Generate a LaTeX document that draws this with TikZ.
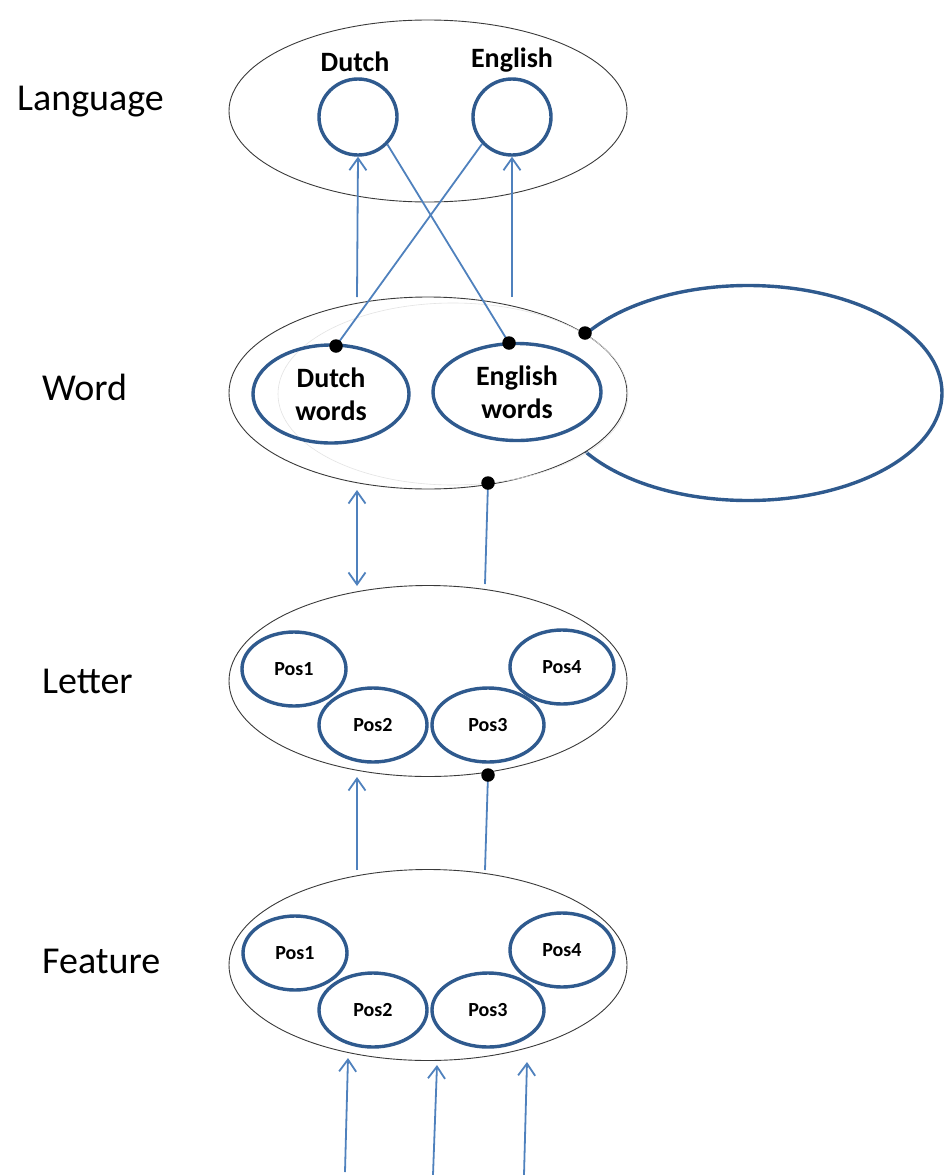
\documentclass[tikz,border=0pt]{standalone}
\usepackage{fontspec}
\setmainfont{Carlito}
\usetikzlibrary{shapes.geometric,arrows.meta}
\definecolor{ringblue}{HTML}{2F5A8E}
\definecolor{linkblue}{HTML}{4F81BD}
\definecolor{rimgray}{HTML}{3A3A3A}
\begin{document}
\begin{tikzpicture}[x=1pt,y=-1pt,
  layer/.style={ellipse,draw=rimgray,line width=0.9pt,fill=white,inner sep=0pt},
  unit/.style={ellipse,draw=ringblue,line width=3.4pt,inner sep=0pt,
    font=\bfseries\fontsize{28}{33}\selectfont,align=center},
  posunit/.style={ellipse,draw=ringblue,line width=3.4pt,inner sep=0pt,
    font=\bfseries\fontsize{20}{22}\selectfont},
  levelname/.style={anchor=base west,inner sep=0pt,font=\fontsize{38}{42}\selectfont},
  tag/.style={font=\bfseries\fontsize{28}{30}\selectfont,inner sep=0pt},
  excite/.style={draw=linkblue,line width=1.8pt,-{Straight Barb[length=12pt,width=17pt]}},
  excite2/.style={draw=linkblue,line width=1.8pt,{Straight Barb[length=12pt,width=17pt]}-{Straight Barb[length=12pt,width=17pt]}},
  inhib/.style={draw=linkblue,line width=1.8pt},
  blob/.style={circle,fill=black,inner sep=0pt,minimum size=13.5pt}]
\path[use as bounding box] (0,0) rectangle (943,1175);

% level names
\node[levelname] (nlang) at (17,110) {Language};
\node[levelname] (nword) at (42,400) {Word};
\node[levelname] (nlett) at (42,693) {Letter};
\node[levelname] (nfeat) at (42,973) {Feature};

% lateral inhibition loop of the word level (drawn first, partly covered)
\node[ellipse,draw=ringblue,line width=3.4pt,minimum width=388pt,minimum height=215pt] (loop) at (748,393) {};

% language level
\node[layer,minimum width=398pt,minimum height=182pt] (lang) at (428,111) {};
\node[unit,minimum width=78pt,minimum height=76pt] (ldutch) at (358,117) {};
\node[unit,minimum width=78pt,minimum height=76pt] (lenglish) at (512,117) {};
\node[tag] (tdutch) at (355,62) {Dutch};
\node[tag] (tenglish) at (512,60) {English};

% word level
\node[layer,minimum width=398pt,minimum height=192pt] (word) at (428,393) {};
\draw[gray!22,line width=0.6pt] (453,394) ellipse (175pt and 91pt);
\node[unit,minimum width=156pt,minimum height=98pt] (wdutch) at (331,394) {Dutch\\words};
\node[unit,minimum width=168pt,minimum height=97pt] (wenglish) at (517,392) {English\\words};

% letter level
\node[layer,minimum width=398pt,minimum height=191pt] (lett) at (428,681) {};
\node[posunit,minimum width=104pt,minimum height=74pt] (lp1) at (294,669) {Pos1};
\node[posunit,minimum width=108pt,minimum height=74pt] (lp2) at (373,725) {Pos2};
\node[posunit,minimum width=112pt,minimum height=74pt] (lp3) at (488,725) {Pos3};
\node[posunit,minimum width=104pt,minimum height=74pt] (lp4) at (562,667) {Pos4};

% feature level
\node[layer,minimum width=398pt,minimum height=191pt] (feat) at (428,965) {};
\node[posunit,minimum width=104pt,minimum height=74pt] (fp1) at (295,953) {Pos1};
\node[posunit,minimum width=108pt,minimum height=74pt] (fp2) at (373,1010) {Pos2};
\node[posunit,minimum width=112pt,minimum height=74pt] (fp3) at (488,1010) {Pos3};
\node[posunit,minimum width=104pt,minimum height=74pt] (fp4) at (562,950) {Pos4};

% inhibitory end points
\coordinate (dwd) at (336,346);
\coordinate (dwe) at (509,343);
\coordinate (dloop) at (585,333);
\coordinate (dwb) at (488,483);
\coordinate (dlb) at (488,775);

% word -> language
\draw[excite] (357,297) -- (ldutch.south);
\draw[excite] (512,297) -- (lenglish.south);
\draw[inhib] (ldutch.-43) -- (dwe);
\draw[inhib] (lenglish.-138) -- (dwd);

% word <-> letter
\draw[excite2] (357,490) -- (357,586);
\draw[inhib] (dwb) -- (485,584);

% letter <- feature
\draw[excite] (357,870) -- (357,777);
\draw[inhib] (dlb) -- (485,870);

% input to the feature level
\draw[excite] (345,1172) -- (348,1058);
\draw[excite] (433,1175) -- (437,1065);
\draw[excite] (524,1175) -- (527,1062);

% dots
\node[blob] (bwd) at (dwd) {};
\node[blob] (bwe) at (dwe) {};
\node[blob] (bloop) at (dloop) {};
\node[blob] (bwb) at (dwb) {};
\node[blob] (blb) at (dlb) {};
\end{tikzpicture}
\end{document}
